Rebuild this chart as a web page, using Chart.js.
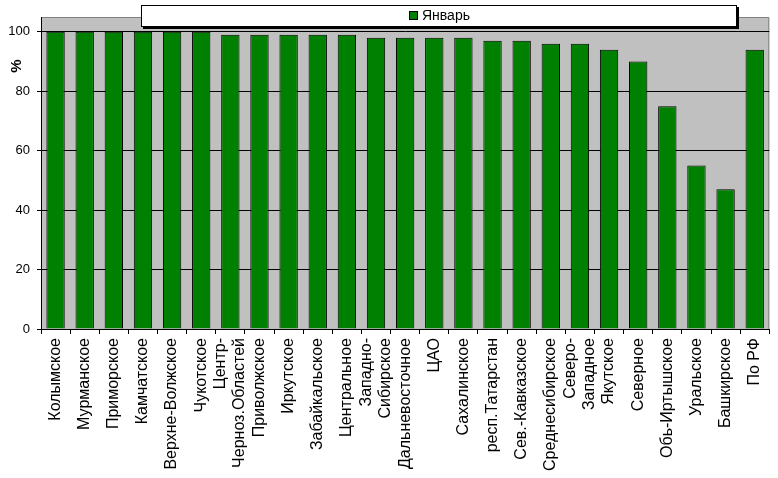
<!DOCTYPE html>
<html>
<head>
<meta charset="utf-8">
<script src="https://cdn.jsdelivr.net/npm/chart.js@4/dist/chart.umd.min.js"></script>
<style>
  body { margin: 0; background: #ffffff; }
  #wrap { position: relative; width: 778px; height: 478px; }
  #legend {
    position: absolute; left: 141px; top: 5px; width: 594px; height: 20px;
    background: #ffffff; border: 1px solid #000000; box-shadow: 2px 2px 0 #000000;
    font-family: "Liberation Sans", Arial, sans-serif; font-size: 14px; color: #000000;
  }
  #legend .box {
    position: absolute; left: 267px; top: 5px; width: 7px; height: 7px;
    border: 1px solid #000000; background: #008000;
  }
  #legend .txt { position: absolute; left: 280px; top: 1px; }
</style>
</head>
<body>
<div id="wrap">
  <canvas id="chart" width="778" height="478"></canvas>
  <div id="legend"><span class="box"></span><span class="txt"></span></div>
</div>
<script>
const categories = [
  "Колымское", "Мурманское", "Приморское", "Камчатское", "Верхне-Волжское",
  "Чукотское", ["Центр-", "Черноз.Областей"], "Приволжское", "Иркутское",
  "Забайкальское", "Центральное", ["Западно-", "Сибирское"], "Дальневосточное",
  "ЦАО", "Сахалинское", "респ.Татарстан", "Сев.-Кавказское", "Среднесибирское",
  ["Северо-", "Западное"], "Якутское", "Северное", "Обь-Иртышское", "Уральское",
  "Башкирское", "По РФ"
];
const january = [100, 100, 100, 100, 100, 100, 99, 99, 99, 99, 99, 98, 98, 98, 98, 97, 97, 96, 96, 94, 90, 75, 55, 47, 94];
const seriesName = "Январь";
const yTicks = [0, 20, 40, 60, 80, 100];

const font = "'Liberation Sans', Arial, sans-serif";

// grey plot area + grey top/right frame + "%" axis caption
const plotBack = {
  id: "plotBack",
  beforeDraw(chart) {
    const { ctx, chartArea: a } = chart;
    ctx.save();
    ctx.fillStyle = "#c0c0c0";
    ctx.fillRect(a.left, a.top, a.right - a.left, a.bottom - a.top);
    ctx.strokeStyle = "#808080";
    ctx.lineWidth = 1;
    ctx.beginPath();
    ctx.moveTo(a.left, a.top + 0.5);
    ctx.lineTo(a.right - 0.5, a.top + 0.5);
    ctx.lineTo(a.right - 0.5, a.bottom);
    ctx.stroke();
    ctx.restore();

    // centre the two-line category labels on their bar
    const xs = chart.scales.x;
    xs.getLabelItems().forEach(item => {
      if (Array.isArray(item.label) && !item._centred) {
        item.options.translation[0] -= (item.label.length - 1) * item.font.lineHeight / 2;
        item._centred = true;
      }
    });
  },
  afterDraw(chart) {
    const ctx = chart.ctx;
    ctx.save();
    ctx.translate(17, 66);
    ctx.rotate(-Math.PI / 2);
    ctx.font = "bold 15px " + font;
    ctx.fillStyle = "#000000";
    ctx.textAlign = "center";
    ctx.textBaseline = "middle";
    ctx.fillText("%", 0, 0);
    ctx.restore();
  }
};

const chart = new Chart("chart", {
  type: "bar",
  data: {
    labels: categories,
    datasets: [{
      label: seriesName,
      data: january,
      backgroundColor: "#008000",
      borderColor: "#000000",
      borderWidth: 1,
      categoryPercentage: 1,
      barPercentage: 0.63
    }]
  },
  options: {
    responsive: false,
    animation: false,
    layout: { padding: { top: 17, right: 4, left: 0, bottom: 0 } },
    plugins: {
      legend: { display: false },
      tooltip: { enabled: false }
    },
    scales: {
      x: {
        afterFit(scale) { scale.height = 149; },
        grid: {
          offset: true,
          drawOnChartArea: false,
          color: "#000000",
          tickLength: 5
        },
        border: { color: "#000000" },
        ticks: {
          autoSkip: false,
          maxRotation: 90,
          minRotation: 90,
          padding: 4,
          color: "#000000",
          font: { family: font, size: 16, lineHeight: 1.2 }
        }
      },
      y: {
        min: 0,
        max: 105,
        afterFit(scale) { scale.width = 41; },
        afterBuildTicks(scale) {
          scale.ticks = yTicks.map(v => ({ value: v }));
        },
        grid: { color: "#000000", tickLength: 4 },
        border: { color: "#000000" },
        ticks: {
          padding: 7,
          color: "#000000",
          font: { family: font, size: 13 }
        }
      }
    }
  },
  plugins: [plotBack]
});

document.querySelector("#legend .txt").textContent = chart.data.datasets[0].label;
</script>
</body>
</html>
